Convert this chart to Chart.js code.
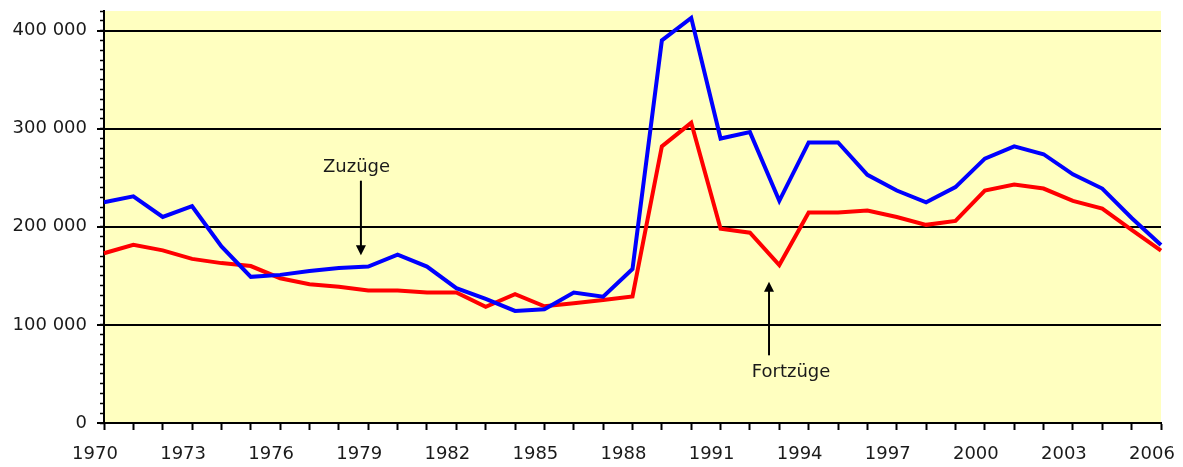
<!DOCTYPE html>
<html>
<head>
<meta charset="utf-8">
<script src="https://cdn.jsdelivr.net/npm/chart.js@4/dist/chart.umd.min.js"></script>
<style>
    body { margin: 0; background: #fff; }
    #wrap { width: 1183px; height: 467px; position: relative; }
</style>
</head>
<body>
<div id="wrap"><canvas id="chart"></canvas></div>
<script>
const years = [];
for (let y = 1970; y <= 2006; y++) years.push(String(y));

// values in persons
const zuzuege = [
    225000, 231000, 210000, 221000, 180000, 149000, 151000, 155000, 158000, 159500,
    171700, 159500, 137400, 126500, 114300, 116000, 133000, 128800, 157000, 390000,
    413000, 290000, 296500, 226500, 286000, 286000, 253000, 237000, 225000, 240500,
    269500, 282000, 274000, 253500, 239000, 209000, 181500
];
const fortzuege = [
    173000, 181600, 176000, 167300, 163000, 160000, 147600, 141500, 139000, 135000,
    135000, 133000, 133000, 118400, 131300, 119000, 122000, 125500, 129000, 282000,
    306000, 198000, 194000, 161000, 214500, 214500, 216500, 210000, 202000, 206000,
    237000, 243000, 239000, 226500, 218500, 197000, 175800
];

const yMajor = [0, 100000, 200000, 300000, 400000];
const yMinorStep = 10000;
const yMax = 420000;

const FONT = { family: '"DejaVu Sans", sans-serif', size: 18 };

// yellow plot background
const plotBg = {
    id: 'plotBg',
    beforeDraw(chart) {
        const { ctx, chartArea: a } = chart;
        ctx.save();
        ctx.fillStyle = '#ffffc0';
        ctx.fillRect(a.left, a.top, a.right - a.left, a.bottom - a.top);
        ctx.restore();
    }
};

// text labels with arrows (positions in data units: year index, value)
const notes = [
    { text: 'Zuzüge', tx: 8.6, ty: 261000, ax: 8.75, from: 247000, to: 171000 },
    { text: 'Fortzüge', tx: 23.4, ty: 52000, ax: 22.65, from: 69000, to: 144000 }
];

const arrows = {
    id: 'arrows',
    afterDatasetsDraw(chart) {
        const { ctx, scales } = chart;
        const x = scales.x, y = scales.y;
        ctx.save();
        ctx.strokeStyle = '#000';
        ctx.font = FONT.size + 'px ' + FONT.family;
        ctx.textAlign = 'center';
        ctx.textBaseline = 'middle';
        notes.forEach(n => {
            ctx.fillStyle = '#1a1a1a';
            ctx.fillText(n.text, x.getPixelForValue(n.tx), y.getPixelForValue(n.ty));
            const px = x.getPixelForValue(n.ax);
            const y1 = y.getPixelForValue(n.from);
            const y2 = y.getPixelForValue(n.to);
            const dir = y2 > y1 ? 1 : -1;
            ctx.lineWidth = 2;
            ctx.beginPath();
            ctx.moveTo(px, y1);
            ctx.lineTo(px, y2 - dir * 8);
            ctx.stroke();
            ctx.fillStyle = '#000';
            ctx.beginPath();
            ctx.moveTo(px, y2);
            ctx.lineTo(px - 5, y2 - dir * 10);
            ctx.lineTo(px + 5, y2 - dir * 10);
            ctx.closePath();
            ctx.fill();
        });
        ctx.restore();
    }
};

new Chart(document.getElementById('chart'), {
    type: 'line',
    data: {
        labels: years,
        datasets: [
            {
                label: 'Zuzüge',
                data: zuzuege,
                borderColor: '#0000ff',
                borderWidth: 4,
                pointRadius: 0,
                tension: 0
            },
            {
                label: 'Fortzüge',
                data: fortzuege,
                borderColor: '#ff0000',
                borderWidth: 4,
                pointRadius: 0,
                tension: 0
            }
        ]
    },
    options: {
        responsive: true,
        maintainAspectRatio: false,
        animation: false,
        layout: { padding: { top: 11, right: 22, left: 0, bottom: 0 } },
        plugins: {
            legend: { display: false },
            tooltip: { enabled: false }
        },
        scales: {
            x: {
                offset: false,
                border: { color: '#000', width: 2 },
                grid: {
                    drawOnChartArea: false,
                    tickLength: 7,
                    tickColor: '#000',
                    tickWidth: 2
                },
                ticks: {
                    autoSkip: false,
                    maxRotation: 0,
                    padding: 14,
                    labelOffset: -9,
                    color: '#1a1a1a',
                    font: FONT,
                    callback: (v, i) => i % 3 === 0 ? years[i] : ''
                },
                afterFit: s => { s.height = 44; s.paddingLeft = 0; s.paddingRight = 0; }
            },
            y: {
                min: 0,
                max: yMax,
                weight: 1,
                border: { color: '#000', width: 2 },
                grid: {
                    color: c => c.tick && c.tick.value === 0 ? 'rgba(0,0,0,0)' : '#000',
                    lineWidth: 2,
                    tickLength: 7,
                    tickColor: '#000',
                    tickWidth: 2
                },
                ticks: {
                    padding: 10,
                    color: '#1a1a1a',
                    font: FONT,
                    callback: v => String(v).replace(/\B(?=(\d{3})+(?!\d))/g, ' ')
                },
                afterBuildTicks: s => { s.ticks = yMajor.map(v => ({ value: v })); },
                afterFit: s => { s.width = 104; s.paddingTop = 0; s.paddingBottom = 0; }
            },
            yMinor: {
                position: 'left',
                min: 0,
                max: yMax,
                weight: 0,
                border: { display: false },
                grid: {
                    drawOnChartArea: false,
                    tickLength: 4,
                    tickColor: '#000',
                    tickWidth: 1.5
                },
                ticks: {
                    stepSize: yMinorStep,
                    display: false
                },
                afterFit: s => { s.width = 0; }
            }
        }
    },
    plugins: [plotBg, arrows]
});
</script>
</body>
</html>
